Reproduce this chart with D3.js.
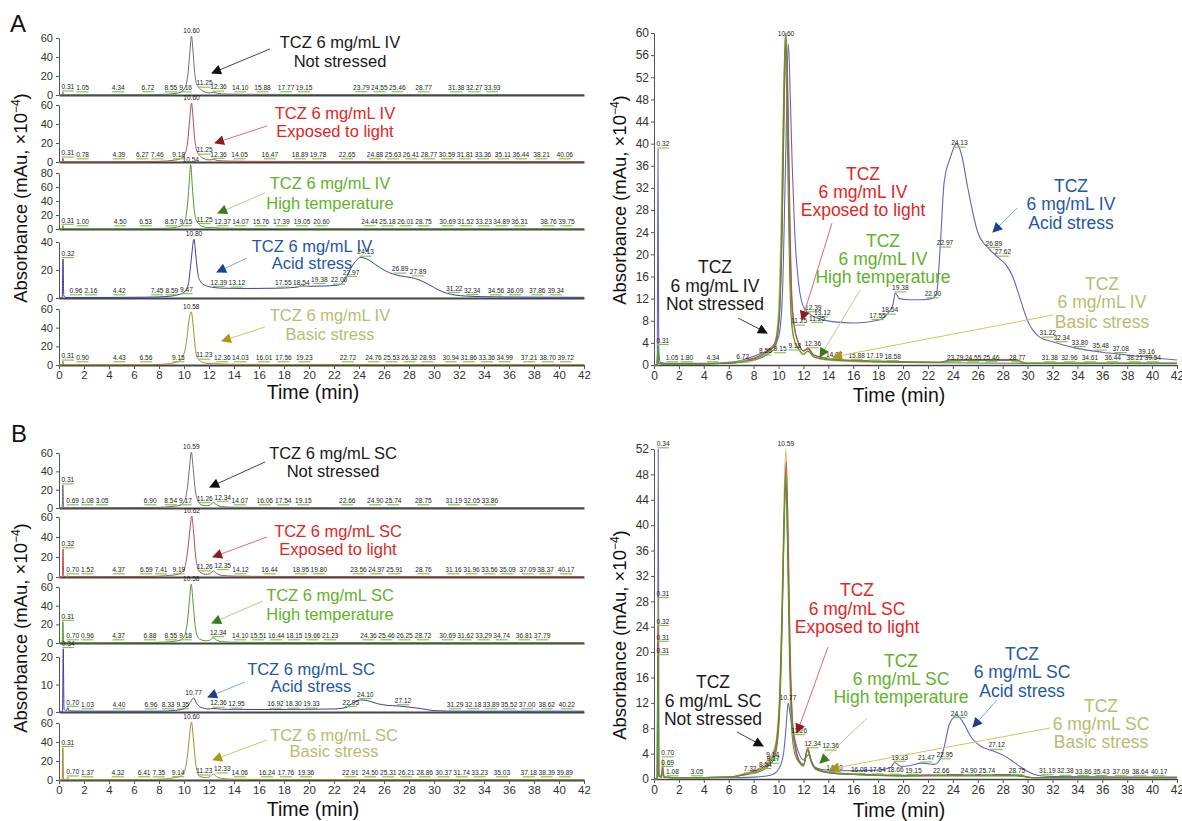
<!DOCTYPE html>
<html>
<head>
<meta charset="utf-8">
<script src="https://cdn.jsdelivr.net/npm/d3@7"></script>
<style>
  body { margin: 0; background: #fff; }
  svg { display: block; }
  text { font-family: "Liberation Sans", Arial, sans-serif; }
</style>
</head>
<body>
<svg id="chart" width="1182" height="821"></svg>
<script>
// ---- data ----
const drug = "TCZ";
const strength = "6 mg/mL";
const routes = ["IV", "SC"];
const conditions = ["Not stressed", "Exposed to light", "High temperature", "Acid stress", "Basic stress"];

const timeTicks = [0, 2, 4, 6, 8, 10, 12, 14, 16, 18, 20, 22, 24, 26, 28, 30, 32, 34, 36, 38, 40, 42];
const ivStackTicks = [[0, 20, 40, 60], [0, 20, 40, 60], [0, 20, 40, 60, 80], [0, 20, 40], [0, 20, 40, 60]];
const scStackTicks = [[0, 20, 40, 60], [0, 20, 40, 60], [0, 20, 40, 60], [0, 10, 20], [0, 20, 40, 60]];
const ivOverlayTicks = [0, 4, 8, 12, 16, 20, 24, 28, 32, 36, 40, 44, 48, 52, 56, 60];
const scOverlayTicks = [0, 4, 8, 12, 16, 20, 24, 28, 32, 36, 40, 44, 48, 52];

// IV, stacked chromatograms [time (min), absorbance]
const ivNotStressed = [[0,0],[0.26,0],[0.31,3],[0.37,0.3],[1,0.3],[4,0.3],[7,0.4],[8.5,0.8],[9.2,1.5],[9.7,2.8],[10.05,7],[10.3,20],[10.45,42],[10.6,62],[10.72,46],[10.85,24],[11.0,12],[11.25,7],[11.6,3.5],[12.0,2.2],[12.36,2.8],[12.7,1.6],[13.5,1],[15,0.7],[20,0.5],[30,0.4],[42,0.4]];
const ivLight = [[0,0],[0.26,0],[0.31,4],[0.37,0.3],[1,0.3],[4,0.3],[7,0.4],[8,0.7],[9.18,1.8],[9.7,3.5],[10.05,8],[10.3,22],[10.45,44],[10.6,62],[10.72,47],[10.85,25],[11.0,13],[11.25,7],[11.6,3.5],[12.0,2.2],[12.36,2.6],[12.7,1.5],[13.5,1],[15,0.7],[20,0.5],[30,0.4],[42,0.4]];
const ivHighTemp = [[0,0],[0.26,0],[0.31,5],[0.37,0.3],[1,0.3],[4,0.3],[7,0.5],[8.5,1],[9.15,2],[9.7,4],[10.0,9],[10.25,30],[10.4,62],[10.54,92],[10.66,62],[10.8,30],[10.95,14],[11.25,6],[11.6,3],[12.0,2],[12.37,2.5],[12.7,1.4],[13.5,1],[15,0.7],[20,0.5],[30,0.4],[42,0.4]];
const ivAcid = [[0,0],[0.26,0],[0.32,28],[0.38,2],[0.5,0.5],[1,0.4],[4,0.4],[7,0.6],[8.5,1],[9.47,2.2],[10.0,4],[10.35,10],[10.55,25],[10.8,42],[10.95,30],[11.1,18],[11.3,12],[11.7,9],[12.39,7.5],[13.12,7],[15,6.8],[17.55,7],[18.54,7.4],[19.2,8],[19.38,9.5],[19.7,8.4],[21,8.5],[22.3,9.2],[22.7,11],[23.0,15],[23.4,22],[23.8,27],[24.13,29],[24.6,28],[25.3,24],[26.2,19],[27.2,16],[28.2,14.5],[28.8,13],[29.6,9.5],[30.3,6],[31.0,3.5],[32.5,1.4],[35,0.8],[38,0.6],[42,0.5]];
const ivBasic = [[0,0],[0.26,0],[0.31,4],[0.37,0.3],[1,0.3],[4,0.3],[7.5,0.4],[8.5,1],[9.15,2.2],[9.7,5],[10.0,12],[10.2,25],[10.4,48],[10.58,57],[10.75,40],[10.9,18],[11.05,8],[11.23,5],[11.6,2.5],[12.0,1.5],[12.36,2],[12.7,1.2],[13.5,0.8],[15,0.6],[20,0.5],[30,0.4],[42,0.4]];

// IV, overlaid chromatograms
const ivOvNotStressed = [[0,0],[0.25,0],[0.31,3.5],[0.38,0.3],[1,0.2],[4,0.2],[6.5,0.4],[7.5,0.8],[8.5,1.5],[9.18,2.5],[9.7,3.6],[10.05,8],[10.3,25],[10.45,46],[10.6,59],[10.75,45],[10.9,25],[11.05,12],[11.25,7],[11.6,4],[12.0,2.5],[12.36,2.9],[12.8,1.8],[13.5,1.3],[15,0.9],[18,0.6],[22,0.4],[30,0.3],[42,0.3]];
const ivOvLight = [[0,0],[0.25,0],[0.31,2.5],[0.38,0.3],[1,0.2],[4,0.2],[6.5,0.4],[7.5,0.9],[8.5,1.7],[9.18,2.8],[9.7,4],[10.05,9],[10.3,27],[10.45,48],[10.62,60],[10.78,46],[10.92,26],[11.08,12],[11.25,7.5],[11.6,4],[12.0,2.6],[12.36,3],[12.8,1.9],[13.5,1.4],[15,1],[18,0.7],[23,0.5],[24,1],[29,1],[30,0.3],[42,0.3]];
const ivOvHighTemp = [[0,0],[0.25,0],[0.31,3],[0.38,0.3],[1,0.2],[4,0.2],[6.5,0.4],[7.5,0.7],[8.5,1.2],[9.15,2],[9.7,3],[10.0,7],[10.25,25],[10.4,46],[10.54,60],[10.68,45],[10.83,24],[10.98,10],[11.2,5],[11.6,3],[12.0,2],[12.37,2.5],[12.8,1.5],[13.5,1.1],[15,0.8],[18,0.6],[23,0.5],[24,0.8],[29,0.8],[30,0.3],[42,0.3]];
const ivOvAcid = [[0,0],[0.26,0],[0.32,39],[0.38,3],[0.5,0.5],[1,0.3],[4,0.3],[6.5,0.6],[7.5,1.2],[8.5,2],[9.47,3],[10.0,5],[10.3,12],[10.55,35],[10.8,58],[10.95,48],[11.1,36],[11.3,24],[11.6,15],[12.0,10.5],[12.39,9.4],[13.12,8.5],[14.5,7.8],[16,7.6],[18,8.1],[18.8,9.4],[19.2,11],[19.38,13],[19.7,12],[20.5,11.8],[21.5,11.8],[22.3,12],[22.7,13],[23.0,22],[23.3,33],[23.8,37.5],[24.3,40],[24.7,38],[25.2,32],[26.0,24],[26.9,21],[27.6,19.5],[28.3,18],[28.8,16],[29.4,12],[30.0,8],[31.0,5],[32.0,4.2],[34,3],[36,2.3],[38,1.8],[40,1.3],[42,0.9]];
const ivOvBasic = [[0,0],[0.25,0],[0.31,3],[0.38,0.3],[1,0.2],[4,0.2],[7.5,0.5],[8.5,1.2],[9.15,2.2],[9.7,4],[10.0,10],[10.2,25],[10.4,48],[10.58,59],[10.75,42],[10.9,20],[11.05,9],[11.23,5],[11.6,2.8],[12.0,1.8],[12.36,2.5],[12.8,1.5],[13.5,1.0],[15,0.7],[18,0.5],[23,0.5],[24,0.8],[29,0.8],[30,0.3],[42,0.3]];

// SC, stacked chromatograms
const scNotStressed = [[0,0],[0.25,0],[0.31,25],[0.37,0.5],[0.6,0.3],[0.69,1.2],[0.8,0.3],[3,0.3],[7,0.5],[8.5,1],[9.17,1.8],[9.7,3],[10.05,8],[10.3,25],[10.45,46],[10.59,61],[10.72,45],[10.9,20],[11.1,8],[11.26,4.5],[11.7,2.5],[12.05,3],[12.34,6],[12.6,3.5],[13,1.5],[14,0.8],[16,0.6],[20,0.5],[30,0.4],[42,0.4]];
const scLight = [[0,0],[0.26,0],[0.32,28],[0.38,0.5],[0.6,0.3],[0.7,1.3],[0.8,0.3],[3,0.3],[7,0.5],[8.5,1.2],[9.19,2],[9.7,3.5],[10.05,9],[10.3,27],[10.47,47],[10.62,61],[10.76,46],[10.93,21],[11.1,9],[11.26,5],[11.7,2.7],[12.05,3.2],[12.35,6.2],[12.6,3.6],[13,1.6],[14,0.9],[16,0.6],[20,0.5],[30,0.4],[42,0.4]];
const scHighTemp = [[0,0],[0.25,0],[0.31,23],[0.37,0.5],[0.6,0.3],[0.7,1.2],[0.8,0.3],[3,0.3],[7,0.5],[8.5,1],[9.18,1.8],[9.7,3],[10.05,8],[10.3,26],[10.45,48],[10.58,63],[10.71,46],[10.88,20],[11.05,8],[11.3,4],[11.7,2.4],[12.05,3],[12.34,5.5],[12.6,3.2],[13,1.4],[14,0.8],[16,0.6],[20,0.5],[30,0.4],[42,0.4]];
const scAcid = [[0,0],[0.28,0],[0.34,23],[0.4,1],[0.6,0.4],[0.7,1.6],[0.8,0.4],[2,0.3],[8,0.3],[9.35,0.6],[10.0,1.2],[10.4,2.8],[10.77,5.1],[11.0,3.2],[11.3,1.8],[12,1.1],[12.36,1.3],[13,1],[16,0.9],[20,1],[22,1.1],[22.95,1.6],[23.4,3],[24.1,4.4],[24.7,4.1],[25.5,3],[26.3,2.4],[27.12,2.2],[28,1.8],[29,1.2],[30,0.5],[32,0.3],[42,0.3]];
const scBasic = [[0,0],[0.25,0],[0.31,34],[0.37,0.5],[0.6,0.3],[0.7,3],[0.8,0.3],[3,0.3],[7,0.5],[8.5,1.2],[9.14,2.2],[9.7,4],[10.05,10],[10.3,28],[10.45,48],[10.6,61],[10.74,45],[10.91,20],[11.08,8],[11.23,4],[11.7,2.5],[12.05,3.2],[12.33,6.2],[12.6,3.6],[13,1.6],[14,0.8],[16,0.6],[20,0.5],[30,0.4],[42,0.4]];

// SC, overlaid chromatograms
const scOvNotStressed = [[0,0],[0.25,0],[0.31,21.5],[0.37,0.5],[0.6,0.3],[0.69,1.8],[0.8,0.3],[2,0.2],[6,0.3],[7.5,0.8],[8.5,1.4],[9.17,2.3],[9.7,4],[10.05,10],[10.3,26],[10.45,40],[10.59,47],[10.72,38],[10.9,20],[11.1,9],[11.26,6],[11.6,3],[12.0,2.2],[12.34,4.6],[12.6,3],[13,1.6],[14,1],[16,0.7],[20,0.5],[24,0.5],[29,0.5],[30.5,0.2],[42,0.2]];
const scOvLight = [[0,0],[0.26,0],[0.32,24],[0.38,0.5],[0.6,0.3],[0.7,1.5],[0.8,0.3],[2,0.2],[6,0.3],[7.5,0.9],[8.5,1.6],[9.19,2.6],[9.7,4.5],[10.05,11],[10.3,28],[10.47,43],[10.62,50],[10.76,40],[10.93,21],[11.1,10],[11.26,6.8],[11.6,3.2],[12.0,2.3],[12.35,4.9],[12.6,3.1],[13,1.7],[14,1.1],[16,0.8],[20,0.6],[24,0.7],[29,0.7],[30.5,0.2],[42,0.2]];
const scOvHighTemp = [[0,0],[0.25,0],[0.31,19.4],[0.37,0.5],[0.6,0.3],[0.7,1.2],[0.8,0.3],[2,0.2],[6,0.3],[7.5,0.7],[8.5,1.2],[9.18,2],[9.7,3.5],[10.05,9],[10.3,25],[10.45,40],[10.58,48],[10.71,38],[10.88,19],[11.05,8],[11.3,4],[11.7,2.5],[12.0,2],[12.34,4.5],[12.6,2.8],[13,1.5],[14,1],[16,0.7],[20,0.5],[24,0.6],[29,0.6],[30.5,0.2],[42,0.2]];
const scOvAcid = [[0,0],[0.28,0],[0.34,52],[0.4,1],[0.6,0.3],[0.7,2.5],[0.8,0.3],[2,0.2],[6,0.2],[8,0.3],[9.35,0.6],[10.0,1.5],[10.4,4],[10.6,8],[10.77,12],[10.95,10],[11.1,8],[11.4,5.5],[12.0,3],[12.4,3.8],[12.8,2],[13.5,1.5],[15,1.3],[18,1.4],[19.0,1.8],[19.33,2.6],[19.8,2],[20.5,2.1],[21.47,2.5],[22.5,2.3],[22.95,3],[23.3,5],[23.7,8.5],[24.3,10],[24.8,9],[25.5,6.5],[26.2,5.2],[27.12,4.5],[28,3.8],[28.8,2.8],[29.5,1.8],[30.2,1],[31,0.5],[32,0.4],[39.5,0.3],[42,0.3]];
const scOvBasic = [[0,0],[0.25,0],[0.31,28.4],[0.37,0.5],[0.6,0.3],[0.7,3.3],[0.8,0.3],[2,0.2],[6,0.3],[7.5,1],[8.5,1.8],[9.14,3],[9.7,5],[10.05,12],[10.3,30],[10.45,45],[10.59,52],[10.73,42],[10.9,22],[11.08,10],[11.23,6],[11.6,3],[12.0,2.3],[12.33,4.8],[12.6,3],[13,1.6],[14,1],[16,0.7],[20,0.5],[24,0.6],[29,0.6],[30.5,0.2],[42,0.2]];

// peak retention times annotated on each trace
const ivStackPeaks = [
  [0.31,1.05,4.34,6.72,8.55,9.16,10.60,11.25,12.36,14.10,15.88,17.77,19.15,23.79,24.55,25.46,28.77,31.38,32.27,33.93],
  [0.31,0.78,4.39,6.27,7.46,9.18,10.60,11.25,12.36,14.05,16.47,18.89,19.78,22.65,24.88,25.63,26.41,28.77,30.59,31.81,33.36,35.11,36.44,38.21,40.06],
  [0.31,1.00,4.50,6.53,8.57,9.15,10.54,11.25,12.37,14.07,15.76,17.39,19.05,20.60,24.44,25.18,26.01,28.75,30.69,31.52,33.23,34.89,36.31,38.76,39.75],
  [0.32,0.96,2.16,4.42,7.45,8.59,9.47,10.80,12.39,13.12,17.55,18.54,19.38,22.00,22.97,24.13,26.89,27.89,31.22,32.34,34.56,36.09,37.86,39.34],
  [0.31,0.90,4.43,6.56,9.15,10.58,11.23,12.36,14.03,16.01,17.56,19.23,22.72,24.76,25.53,26.32,28.93,30.94,31.86,33.36,34.99,37.21,38.70,39.72]
];
const ivOverlayPeaks = [
  [0.31,1.05,1.80,4.34,6.72,8.55,9.18,10.60,11.25,12.36,15.88,17.19,18.58,23.79,24.55,25.46,28.77,31.38,32.96,34.61,36.44,38.21,39.54],
  [11.25],
  [9.15,14.07],
  [0.32,12.39,13.12,17.55,18.54,19.38,22.00,22.97,24.13,26.89,27.62,31.22,32.34,33.80,35.48,37.08,39.16],
  []
];
const scStackPeaks = [
  [0.31,0.69,1.08,3.05,6.90,8.54,9.17,10.59,11.26,12.34,14.07,16.06,17.54,19.15,22.66,24.90,25.74,28.75,31.19,32.05,33.86],
  [0.32,0.70,1.52,4.37,6.59,7.41,9.19,10.62,11.26,12.35,14.12,16.44,18.95,19.80,23.56,24.97,25.91,28.76,31.16,31.96,33.56,35.09,37.09,38.37,40.17],
  [0.31,0.70,0.96,4.37,6.88,8.55,9.18,10.58,12.34,14.10,15.51,16.44,18.15,19.66,21.23,24.36,25.46,26.25,28.72,30.69,31.62,33.29,34.74,36.81,37.79],
  [0.34,0.70,1.03,4.40,6.96,8.33,9.35,10.77,12.36,12.95,16.92,18.30,19.33,22.95,24.10,27.12,31.29,32.18,33.89,35.52,37.00,38.62,40.22],
  [0.31,0.70,1.37,4.32,6.41,7.35,9.14,10.60,11.23,12.33,14.06,16.24,17.76,19.36,22.91,24.50,25.31,26.21,28.86,30.37,31.74,33.23,35.03,37.18,38.39,39.89]
];
const scOverlayPeaks = [
  [0.31,0.69,1.08,3.05,7.32,8.54,9.17,16.08,17.54,19.15,22.66,24.90,25.74,28.75],
  [0.32,11.26],
  [0.31,12.36,14.10],
  [0.34,10.77,19.33,21.47,22.95,24.10,27.12,31.19,32.38,33.86,35.43,37.09,38.64,40.17],
  [0.31,0.70,9.14,10.59,12.34,18.66]
];

// ---- styles ----
const traceColors = ["#6e6e6e", "#b24e4c", "#55992f", "#3c3f9e", "#a28c2c"];
const overlayColors = ["#707070", "#c0504d", "#4f9d2a", "#6464bc", "#cbb96a"];
const textColors = ["#1a1a1a", "#e0261f", "#62b22a", "#2357a8", "#b9bc70"];
const headColors = ["#111111", "#8e1c1c", "#3e7a1c", "#1f3f90", "#a89a18"];
const lineColors = ["#444444", "#e06a6a", "#b9c98e", "#86a6d8", "#d8c458"];
const overlayOrder = [3, 4, 0, 1, 2];

const svg = d3.select("#chart");
const defs = svg.append("defs");
headColors.forEach((c, i) => {
  defs.append("marker")
    .attr("id", "head" + i)
    .attr("viewBox", "0 0 10 10")
    .attr("refX", 9).attr("refY", 5)
    .attr("markerWidth", 11).attr("markerHeight", 10)
    .attr("markerUnits", "userSpaceOnUse")
    .attr("orient", "auto")
    .append("path").attr("d", "M0,0 L10,5 L0,10 z").attr("fill", c);
});

function valueAt(tr, t) {
  for (let i = 1; i < tr.length; i++) {
    if (tr[i][0] >= t) {
      const [t0, v0] = tr[i - 1], [t1, v1] = tr[i];
      return v0 + (v1 - v0) * (t - t0) / (t1 - t0);
    }
  }
  return tr[tr.length - 1][1];
}

function styleAxis(g, size) {
  g.attr("font-family", null).attr("font-size", null);
  g.selectAll(".domain").attr("stroke", "#555");
  g.selectAll(".tick line").attr("stroke", "#555");
  g.selectAll(".tick text").attr("fill", "#333").style("font-size", size + "px")
    .style("font-family", '"Liberation Sans", Arial, sans-serif');
}

// collect labels of one panel, then spread apart labels sharing a row
function drawPeakLabels(g, items) {
  const labels = items.map(d => {
    const v = valueAt(d.trace, d.t);
    const main = d.t > 10.4 && d.t < 10.9;
    return {
      text: d.t.toFixed(2),
      cx: d.x(d.t + (main ? 0 : 0.4)),
      ly: Math.min(d.y(v) - 3, d.y0 - 5),
      main: main
    };
  }).sort((a, b) => a.cx - b.cx);
  const placed = [];
  labels.forEach(l => {
    l.w = l.text.length * 3.3;
    placed.forEach(p => {
      if (Math.abs(p.ly - l.ly) < 3.5 && l.cx - l.w / 2 < p.cx + p.w / 2 + 1.5) {
        l.cx = p.cx + p.w / 2 + 1.5 + l.w / 2;
      }
    });
    placed.push(l);
  });
  placed.filter(l => !l.main).forEach(l => {
    g.append("line")
      .attr("x1", l.cx - 6).attr("x2", l.cx + 6)
      .attr("y1", l.ly + 1.8).attr("y2", l.ly + 1.8)
      .attr("stroke", "#7cc142").attr("stroke-width", 1.1);
  });
  g.selectAll(null).data(placed).enter().append("text")
    .attr("x", d => d.cx).attr("y", d => d.ly)
    .attr("text-anchor", "middle")
    .attr("font-size", 6.6)
    .attr("fill", "#222")
    .text(d => d.text);
}

function annotate(g, lines, i, cx, ys, from, to, size) {
  g.append("line")
    .attr("x1", from[0]).attr("y1", from[1])
    .attr("x2", to[0]).attr("y2", to[1])
    .attr("stroke", lineColors[i]).attr("stroke-width", 1)
    .attr("marker-end", "url(#head" + i + ")");
  lines.forEach((t, k) => {
    g.append("text")
      .attr("x", cx).attr("y", ys[k])
      .attr("text-anchor", "middle")
      .attr("font-size", size)
      .attr("fill", textColors[i])
      .text(t);
  });
}

function yTitle(x, y) {
  const t = svg.append("text")
    .attr("transform", `translate(${x},${y}) rotate(-90)`)
    .attr("text-anchor", "middle")
    .attr("font-size", 18.5)
    .attr("fill", "#111");
  t.append("tspan").text("Absorbance (mAu, \u00d710");
  t.append("tspan").attr("dy", -7).attr("font-size", 12).text("\u22124");
  t.append("tspan").attr("dy", 7).text(")");
}

function xTitle(x, y) {
  svg.append("text")
    .attr("x", x).attr("y", y)
    .attr("text-anchor", "middle")
    .attr("font-size", 19.5)
    .attr("fill", "#111")
    .text("Time (min)");
}

function drawStack(traces, tickSets, peaks, rows, route, anns) {
  const x = d3.scaleLinear().domain([0, 42]).range([59, 584]);
  rows.forEach((r, i) => {
    const ticks = tickSets[i];
    const y = d3.scaleLinear().domain([0, ticks[ticks.length - 1]]).range([r.y0, r.top]);
    const g = svg.append("g");
    const ya = g.append("g").attr("transform", "translate(59,0)")
      .call(d3.axisLeft(y).tickValues(ticks).tickSize(3).tickPadding(3).tickSizeOuter(0));
    styleAxis(ya, 11);
    const last = i === rows.length - 1;
    const xAxis = last
      ? d3.axisBottom(x).tickValues(timeTicks).tickSize(4).tickPadding(2).tickSizeOuter(0)
      : d3.axisBottom(x).tickValues([]).tickSizeOuter(0);
    const xa = g.append("g").attr("transform", `translate(0,${r.y0})`).call(xAxis);
    styleAxis(xa, 11.5);
    xa.select(".domain").attr("stroke", "#444").attr("stroke-width", 1.8);

    g.append("path").datum(traces[i])
      .attr("fill", "none")
      .attr("stroke", traceColors[i])
      .attr("stroke-width", 1)
      .attr("d", d3.line().x(d => x(d[0])).y(d => y(d[1])).curve(d3.curveMonotoneX));

    const sub = peaks[i].map(t => ({ t: t, trace: traces[i], x: x, y: y, y0: r.y0 }));
    drawPeakLabels(svg.append("g"), sub);

    const a = anns[i];
    annotate(svg, [`${drug} ${strength} ${route}`, conditions[i]], i, a.cx, a.ys, a.from, a.to, 16.5);
  });
}

function drawOverlay(traces, ticks, peaks, y0, top, route, anns) {
  const x = d3.scaleLinear().domain([0, 42]).range([654, 1177]);
  const y = d3.scaleLinear().domain([0, ticks[ticks.length - 1]]).range([y0, top]);
  const g = svg.append("g");
  const ya = g.append("g").attr("transform", "translate(654,0)")
    .call(d3.axisLeft(y).tickValues(ticks).tickSize(3).tickPadding(2).tickSizeOuter(0));
  styleAxis(ya, 12);
  const xa = g.append("g").attr("transform", `translate(0,${y0})`)
    .call(d3.axisBottom(x).tickValues(timeTicks).tickSize(4).tickPadding(2).tickSizeOuter(0));
  styleAxis(xa, 12);
  xa.select(".domain").attr("stroke", "#444").attr("stroke-width", 1.6);

  overlayOrder.forEach(i => {
    g.append("path").datum(traces[i])
      .attr("fill", "none")
      .attr("stroke", overlayColors[i])
      .attr("stroke-width", 1.1)
      .attr("d", d3.line().x(d => x(d[0])).y(d => y(d[1])).curve(d3.curveMonotoneX));
  });

  const items = [];
  peaks.forEach((list, i) => list.forEach(t => items.push({ t: t, trace: traces[i], x: x, y: y, y0: y0 })));
  drawPeakLabels(g.append("g"), items);

  anns.forEach((a, i) => {
    annotate(svg, [drug, `${strength} ${route}`, conditions[i]], i, a.cx, a.ys, a.from, a.to, 17.5);
  });
}

// ---- layout ----
const rowsA = [{ y0: 95, top: 38 }, { y0: 162, top: 105 }, { y0: 229, top: 173 }, { y0: 298, top: 242 }, { y0: 365, top: 309 }];
const rowsB = [{ y0: 508, top: 453 }, { y0: 577, top: 517 }, { y0: 643, top: 587 }, { y0: 712, top: 657 }, { y0: 780, top: 723 }];

const annStackA = [
  { cx: 340, ys: [48, 67], from: [270, 49], to: [212, 73] },
  { cx: 335, ys: [119, 137], from: [267, 126], to: [215, 143] },
  { cx: 330, ys: [189, 209], from: [265, 193], to: [218, 213] },
  { cx: 312, ys: [252, 269], from: [247, 258], to: [217, 272] },
  { cx: 330, ys: [321, 340], from: [265, 327], to: [222, 341] }
];
const annOverA = [
  { cx: 715, ys: [273, 292, 310], from: [738, 318], to: [767, 333] },
  { cx: 863, ys: [180, 198, 216], from: [832, 223], to: [802, 320] },
  { cx: 883, ys: [247, 265, 283], from: [860, 290], to: [820, 357] },
  { cx: 1071, ys: [192, 210, 229], from: [1017, 208], to: [993, 232] },
  { cx: 1102, ys: [290, 308, 328], from: [1053, 315], to: [833, 357] }
];
const annStackB = [
  { cx: 333, ys: [459, 477], from: [265, 462], to: [210, 487] },
  { cx: 338, ys: [537, 555], from: [267, 537], to: [213, 557] },
  { cx: 330, ys: [601, 620], from: [263, 601], to: [212, 623] },
  { cx: 311, ys: [675, 692], from: [245, 682], to: [208, 697] },
  { cx: 334, ys: [741, 757], from: [267, 740], to: [213, 760] }
];
const annOverB = [
  { cx: 713, ys: [688, 707, 725], from: [737, 732], to: [763, 746] },
  { cx: 857, ys: [596, 615, 633], from: [828, 647], to: [797, 733] },
  { cx: 901, ys: [667, 685, 703], from: [867, 718], to: [820, 763] },
  { cx: 1022, ys: [660, 678, 697], from: [997, 700], to: [973, 727] },
  { cx: 1101, ys: [712, 730, 748], from: [1050, 728], to: [830, 769] }
];

drawStack([ivNotStressed, ivLight, ivHighTemp, ivAcid, ivBasic], ivStackTicks, ivStackPeaks, rowsA, routes[0], annStackA);
drawOverlay([ivOvNotStressed, ivOvLight, ivOvHighTemp, ivOvAcid, ivOvBasic], ivOverlayTicks, ivOverlayPeaks, 365, 33, routes[0], annOverA);
drawStack([scNotStressed, scLight, scHighTemp, scAcid, scBasic], scStackTicks, scStackPeaks, rowsB, routes[1], annStackB);
drawOverlay([scOvNotStressed, scOvLight, scOvHighTemp, scOvAcid, scOvBasic], scOverlayTicks, scOverlayPeaks, 779, 449, routes[1], annOverB);

yTitle(27, 198);
yTitle(626, 200);
yTitle(27, 628);
yTitle(626, 635);
xTitle(313, 399);
xTitle(899, 402);
xTitle(313, 816);
xTitle(899, 817);

svg.append("text").attr("x", 10).attr("y", 32).attr("font-size", 24).attr("fill", "#111").text("A");
svg.append("text").attr("x", 11).attr("y", 442).attr("font-size", 24).attr("fill", "#111").text("B");
</script>
</body>
</html>
